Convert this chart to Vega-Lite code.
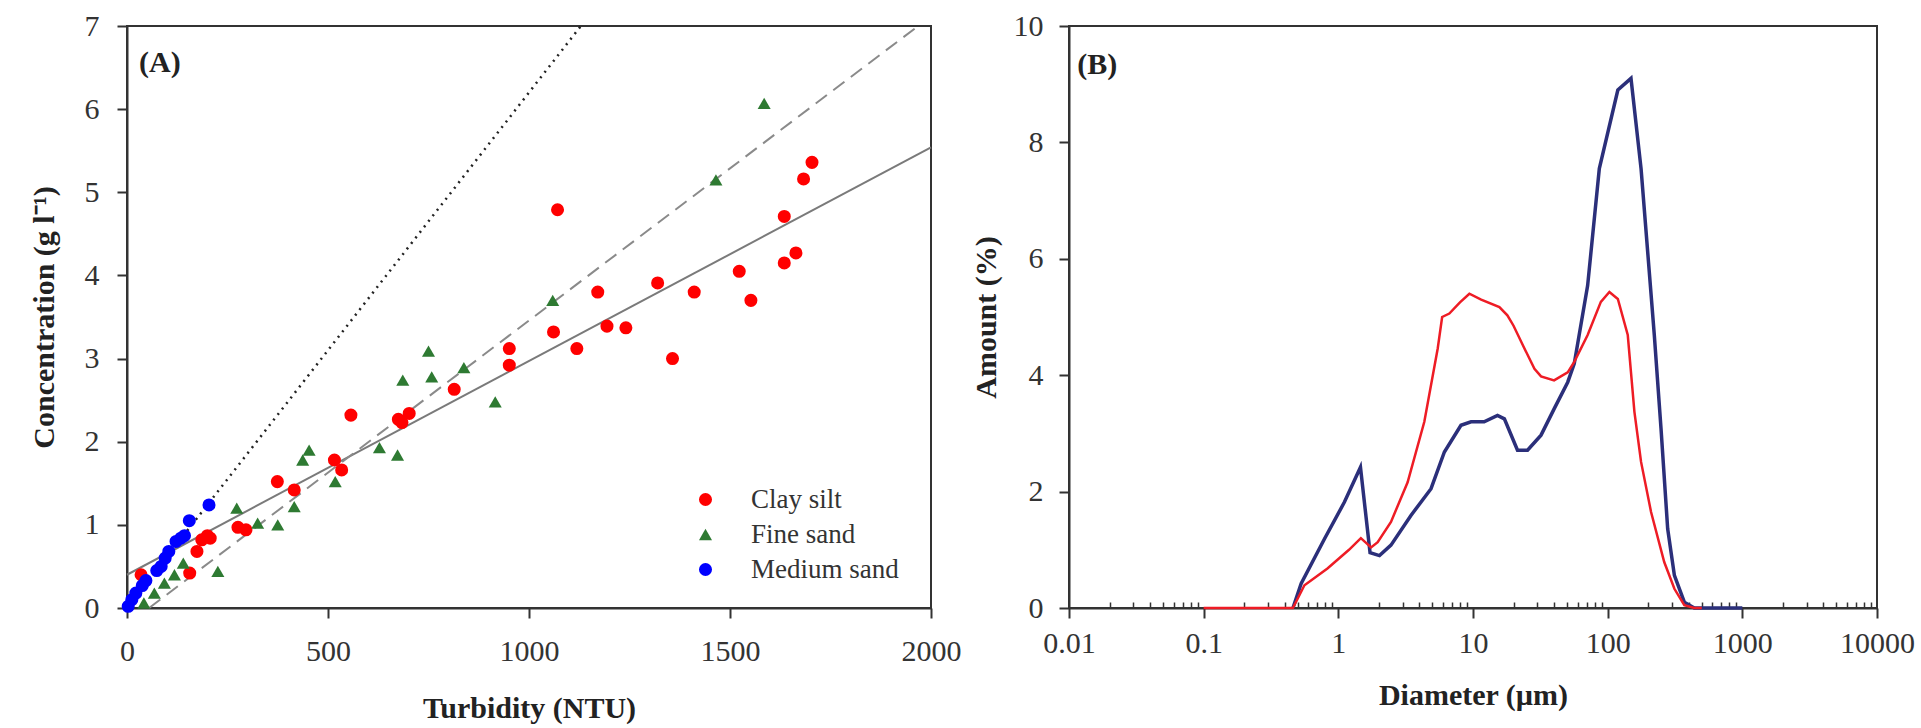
{
  "$schema": "https://vega.github.io/schema/vega-lite/v6.json",
  "background": "white",
  "padding": {"left": 28, "top": 10, "right": 5, "bottom": 5},
  "config": {
    "font": "Liberation Serif",
    "view": {"stroke": "#333", "strokeWidth": 2},
    "axis": {
      "grid": false, "domainColor": "#333", "domainWidth": 2,
      "tickColor": "#333", "tickWidth": 2, "tickSize": 10,
      "labelColor": "#333", "labelFont": "Liberation Serif", "labelFontSize": 30,
      "titleFont": "Liberation Serif", "titleFontSize": 30, "titleFontWeight": "bold", "titleColor": "#222",
      "labelFlush": false, "labelOverlap": false
    }
  },
  "datasets": {
    "sediment": [
      {"type": "Clay silt", "turbidity": 35, "conc": 0.40},
      {"type": "Clay silt", "turbidity": 156, "conc": 0.42},
      {"type": "Clay silt", "turbidity": 174, "conc": 0.68},
      {"type": "Clay silt", "turbidity": 186, "conc": 0.82},
      {"type": "Clay silt", "turbidity": 200, "conc": 0.87},
      {"type": "Clay silt", "turbidity": 207, "conc": 0.84},
      {"type": "Clay silt", "turbidity": 276, "conc": 0.97},
      {"type": "Clay silt", "turbidity": 296, "conc": 0.94},
      {"type": "Clay silt", "turbidity": 374, "conc": 1.52},
      {"type": "Clay silt", "turbidity": 416, "conc": 1.42},
      {"type": "Clay silt", "turbidity": 516, "conc": 1.78},
      {"type": "Clay silt", "turbidity": 534, "conc": 1.66},
      {"type": "Clay silt", "turbidity": 557, "conc": 2.32},
      {"type": "Clay silt", "turbidity": 675, "conc": 2.27},
      {"type": "Clay silt", "turbidity": 684, "conc": 2.23},
      {"type": "Clay silt", "turbidity": 702, "conc": 2.34},
      {"type": "Clay silt", "turbidity": 814, "conc": 2.63},
      {"type": "Clay silt", "turbidity": 951, "conc": 3.12},
      {"type": "Clay silt", "turbidity": 951, "conc": 2.92},
      {"type": "Clay silt", "turbidity": 1061, "conc": 3.32},
      {"type": "Clay silt", "turbidity": 1071, "conc": 4.79},
      {"type": "Clay silt", "turbidity": 1119, "conc": 3.12},
      {"type": "Clay silt", "turbidity": 1171, "conc": 3.80},
      {"type": "Clay silt", "turbidity": 1194, "conc": 3.39},
      {"type": "Clay silt", "turbidity": 1241, "conc": 3.37},
      {"type": "Clay silt", "turbidity": 1320, "conc": 3.91},
      {"type": "Clay silt", "turbidity": 1357, "conc": 3.00},
      {"type": "Clay silt", "turbidity": 1411, "conc": 3.80},
      {"type": "Clay silt", "turbidity": 1523, "conc": 4.05},
      {"type": "Clay silt", "turbidity": 1552, "conc": 3.70},
      {"type": "Clay silt", "turbidity": 1635, "conc": 4.71},
      {"type": "Clay silt", "turbidity": 1635, "conc": 4.15},
      {"type": "Clay silt", "turbidity": 1664, "conc": 4.27},
      {"type": "Clay silt", "turbidity": 1683, "conc": 5.16},
      {"type": "Clay silt", "turbidity": 1704, "conc": 5.36},
      {"type": "Fine sand", "turbidity": 42, "conc": 0.06},
      {"type": "Fine sand", "turbidity": 68, "conc": 0.18},
      {"type": "Fine sand", "turbidity": 93, "conc": 0.30},
      {"type": "Fine sand", "turbidity": 118, "conc": 0.40},
      {"type": "Fine sand", "turbidity": 140, "conc": 0.54},
      {"type": "Fine sand", "turbidity": 226, "conc": 0.44},
      {"type": "Fine sand", "turbidity": 273, "conc": 1.20},
      {"type": "Fine sand", "turbidity": 325, "conc": 1.02},
      {"type": "Fine sand", "turbidity": 375, "conc": 1.00},
      {"type": "Fine sand", "turbidity": 416, "conc": 1.22},
      {"type": "Fine sand", "turbidity": 437, "conc": 1.78},
      {"type": "Fine sand", "turbidity": 453, "conc": 1.90},
      {"type": "Fine sand", "turbidity": 518, "conc": 1.52},
      {"type": "Fine sand", "turbidity": 628, "conc": 1.93},
      {"type": "Fine sand", "turbidity": 673, "conc": 1.84},
      {"type": "Fine sand", "turbidity": 686, "conc": 2.74},
      {"type": "Fine sand", "turbidity": 750, "conc": 3.09},
      {"type": "Fine sand", "turbidity": 758, "conc": 2.78},
      {"type": "Fine sand", "turbidity": 838, "conc": 2.89},
      {"type": "Fine sand", "turbidity": 916, "conc": 2.48},
      {"type": "Fine sand", "turbidity": 1059, "conc": 3.70},
      {"type": "Fine sand", "turbidity": 1465, "conc": 5.15},
      {"type": "Fine sand", "turbidity": 1585, "conc": 6.07},
      {"type": "Medium sand", "turbidity": 3, "conc": 0.02},
      {"type": "Medium sand", "turbidity": 12, "conc": 0.10},
      {"type": "Medium sand", "turbidity": 22, "conc": 0.18},
      {"type": "Medium sand", "turbidity": 38, "conc": 0.27},
      {"type": "Medium sand", "turbidity": 47, "conc": 0.33},
      {"type": "Medium sand", "turbidity": 74, "conc": 0.45},
      {"type": "Medium sand", "turbidity": 85, "conc": 0.50},
      {"type": "Medium sand", "turbidity": 95, "conc": 0.60},
      {"type": "Medium sand", "turbidity": 104, "conc": 0.68},
      {"type": "Medium sand", "turbidity": 122, "conc": 0.80},
      {"type": "Medium sand", "turbidity": 134, "conc": 0.84},
      {"type": "Medium sand", "turbidity": 143, "conc": 0.87},
      {"type": "Medium sand", "turbidity": 155, "conc": 1.05},
      {"type": "Medium sand", "turbidity": 204, "conc": 1.24}
    ],
    "fits": [
      {"fit": "Clay silt", "turbidity": 0, "conc": 0.40},
      {"fit": "Clay silt", "turbidity": 2000, "conc": 5.54},
      {"fit": "Fine sand", "turbidity": 55, "conc": 0.0},
      {"fit": "Fine sand", "turbidity": 1968, "conc": 7.0},
      {"fit": "Medium sand", "turbidity": 0, "conc": 0.0},
      {"fit": "Medium sand", "turbidity": 1129, "conc": 7.0}
    ],
    "psd": [
      {"sample": "blue", "diameter": 0.46, "amount": 0},
      {"sample": "blue", "diameter": 0.53, "amount": 0.42},
      {"sample": "blue", "diameter": 0.79, "amount": 1.19},
      {"sample": "blue", "diameter": 1.11, "amount": 1.82},
      {"sample": "blue", "diameter": 1.46, "amount": 2.42},
      {"sample": "blue", "diameter": 1.72, "amount": 0.95},
      {"sample": "blue", "diameter": 2.02, "amount": 0.9},
      {"sample": "blue", "diameter": 2.46, "amount": 1.08},
      {"sample": "blue", "diameter": 3.46, "amount": 1.59},
      {"sample": "blue", "diameter": 4.88, "amount": 2.05},
      {"sample": "blue", "diameter": 6.13, "amount": 2.68},
      {"sample": "blue", "diameter": 8.14, "amount": 3.14},
      {"sample": "blue", "diameter": 9.67, "amount": 3.2},
      {"sample": "blue", "diameter": 12.1, "amount": 3.2},
      {"sample": "blue", "diameter": 15.2, "amount": 3.31},
      {"sample": "blue", "diameter": 17.1, "amount": 3.25},
      {"sample": "blue", "diameter": 21.4, "amount": 2.71},
      {"sample": "blue", "diameter": 25.4, "amount": 2.71},
      {"sample": "blue", "diameter": 32, "amount": 2.97},
      {"sample": "blue", "diameter": 40.2, "amount": 3.43},
      {"sample": "blue", "diameter": 50.5, "amount": 3.88},
      {"sample": "blue", "diameter": 56.5, "amount": 4.2},
      {"sample": "blue", "diameter": 71, "amount": 5.54},
      {"sample": "blue", "diameter": 86.7, "amount": 7.55},
      {"sample": "blue", "diameter": 119, "amount": 8.9},
      {"sample": "blue", "diameter": 149, "amount": 9.1},
      {"sample": "blue", "diameter": 177, "amount": 7.55},
      {"sample": "blue", "diameter": 222, "amount": 4.69},
      {"sample": "blue", "diameter": 249, "amount": 3.08},
      {"sample": "blue", "diameter": 279, "amount": 1.36},
      {"sample": "blue", "diameter": 313, "amount": 0.56},
      {"sample": "blue", "diameter": 371, "amount": 0.1},
      {"sample": "blue", "diameter": 440, "amount": 0},
      {"sample": "blue", "diameter": 1000, "amount": 0},
      {"sample": "red", "diameter": 0.1, "amount": 0},
      {"sample": "red", "diameter": 0.46, "amount": 0},
      {"sample": "red", "diameter": 0.56, "amount": 0.39},
      {"sample": "red", "diameter": 0.83, "amount": 0.68},
      {"sample": "red", "diameter": 1.2, "amount": 1.0},
      {"sample": "red", "diameter": 1.47, "amount": 1.2},
      {"sample": "red", "diameter": 1.75, "amount": 1.04},
      {"sample": "red", "diameter": 1.96, "amount": 1.13},
      {"sample": "red", "diameter": 2.46, "amount": 1.48},
      {"sample": "red", "diameter": 3.27, "amount": 2.16},
      {"sample": "red", "diameter": 4.35, "amount": 3.2},
      {"sample": "red", "diameter": 5.47, "amount": 4.46},
      {"sample": "red", "diameter": 5.9, "amount": 5.0},
      {"sample": "red", "diameter": 6.67, "amount": 5.06},
      {"sample": "red", "diameter": 8.0, "amount": 5.25},
      {"sample": "red", "diameter": 9.4, "amount": 5.4},
      {"sample": "red", "diameter": 11.5, "amount": 5.3},
      {"sample": "red", "diameter": 15.7, "amount": 5.17},
      {"sample": "red", "diameter": 18, "amount": 5.03},
      {"sample": "red", "diameter": 20, "amount": 4.85},
      {"sample": "red", "diameter": 24.1, "amount": 4.46},
      {"sample": "red", "diameter": 28.6, "amount": 4.11},
      {"sample": "red", "diameter": 32, "amount": 3.98},
      {"sample": "red", "diameter": 40, "amount": 3.91},
      {"sample": "red", "diameter": 50.5, "amount": 4.05},
      {"sample": "red", "diameter": 56.5, "amount": 4.23},
      {"sample": "red", "diameter": 71, "amount": 4.69},
      {"sample": "red", "diameter": 89, "amount": 5.26},
      {"sample": "red", "diameter": 103, "amount": 5.43},
      {"sample": "red", "diameter": 119, "amount": 5.31},
      {"sample": "red", "diameter": 141, "amount": 4.69},
      {"sample": "red", "diameter": 149, "amount": 4.05},
      {"sample": "red", "diameter": 158, "amount": 3.37},
      {"sample": "red", "diameter": 177, "amount": 2.51},
      {"sample": "red", "diameter": 210, "amount": 1.65},
      {"sample": "red", "diameter": 263, "amount": 0.79},
      {"sample": "red", "diameter": 313, "amount": 0.33},
      {"sample": "red", "diameter": 371, "amount": 0.05},
      {"sample": "red", "diameter": 440, "amount": 0},
      {"sample": "red", "diameter": 500, "amount": 0}
    ]
  },
  "bounds": "flush",
  "spacing": 138,
  "hconcat": [
    {
      "width": 804,
      "height": 582,
      "layer": [
        {
          "data": {"name": "fits"},
          "transform": [{"filter": "datum.fit === 'Clay silt'"}],
          "mark": {"type": "line", "color": "#7a7a7a", "strokeWidth": 2},
          "encoding": {
            "x": {"field": "turbidity", "type": "quantitative", "scale": {"domain": [0, 2000], "nice": false},
                  "axis": {"values": [0, 500, 1000, 1500, 2000], "format": "d", "title": "Turbidity (NTU)", "labelPadding": 18, "titlePadding": 27}},
            "y": {"field": "conc", "type": "quantitative", "scale": {"domain": [0, 7], "nice": false},
                  "axis": {"values": [0, 1, 2, 3, 4, 5, 6, 7], "format": "d", "title": "Concentration (g l⁻¹)", "labelPadding": 18, "titlePadding": 25}}
          }
        },
        {
          "data": {"name": "fits"},
          "transform": [{"filter": "datum.fit === 'Fine sand'"}],
          "mark": {"type": "line", "color": "#8a8a8a", "strokeWidth": 2, "strokeDash": [14, 8]},
          "encoding": {
            "x": {"field": "turbidity", "type": "quantitative"},
            "y": {"field": "conc", "type": "quantitative"}
          }
        },
        {
          "data": {"name": "fits"},
          "transform": [{"filter": "datum.fit === 'Medium sand'"}],
          "mark": {"type": "line", "color": "#222", "strokeWidth": 2.5, "strokeDash": [2, 5]},
          "encoding": {
            "x": {"field": "turbidity", "type": "quantitative"},
            "y": {"field": "conc", "type": "quantitative"}
          }
        },
        {
          "data": {"name": "sediment"},
          "mark": {"type": "point", "filled": true, "opacity": 1, "size": 170},
          "encoding": {
            "x": {"field": "turbidity", "type": "quantitative"},
            "y": {"field": "conc", "type": "quantitative"},
            "color": {"field": "type", "type": "nominal",
                      "scale": {"domain": ["Clay silt", "Fine sand", "Medium sand"], "range": ["#ff0000", "#2e7a32", "#0000ff"]},
                      "legend": {"title": null, "orient": "none", "legendX": 565, "legendY": 460, "padding": 0,
                                 "labelFont": "Liberation Serif", "labelFontSize": 27, "labelColor": "#333",
                                 "labelOffset": 32, "rowPadding": 7, "symbolSize": 170, "symbolStrokeWidth": 0}},
            "shape": {"field": "type", "type": "nominal",
                      "scale": {"domain": ["Clay silt", "Fine sand", "Medium sand"], "range": ["circle", "triangle-up", "circle"]}}
          }
        },
        {
          "data": {"values": [{"label": "(A)"}]},
          "mark": {"type": "text", "align": "left", "baseline": "middle", "fontSize": 30, "fontWeight": "bold", "font": "Liberation Serif", "color": "#222"},
          "encoding": {
            "x": {"datum": 30, "type": "quantitative"},
            "y": {"datum": 6.56, "type": "quantitative"},
            "text": {"field": "label"}
          }
        }
      ]
    },
    {
      "width": 808,
      "height": 582,
      "resolve": {"axis": {"x": "independent"}},
      "layer": [
        {
          "data": {"name": "psd"},
          "transform": [{"filter": "datum.sample === 'blue'"}],
          "mark": {"type": "line", "color": "#2b2f7a", "strokeWidth": 3.5},
          "encoding": {
            "x": {"field": "diameter", "type": "quantitative",
                  "scale": {"type": "log", "domain": [0.01, 10000], "nice": false},
                  "axis": {"orient": "bottom", "values": [0.01, 0.1, 1, 10, 100, 1000, 10000], "format": "~g", "title": "Diameter (µm)", "labelPadding": 10, "titlePadding": 22}},
            "y": {"field": "amount", "type": "quantitative", "scale": {"domain": [0, 10], "nice": false},
                  "axis": {"values": [0, 2, 4, 6, 8, 10], "format": "d", "title": "Amount (%)", "labelPadding": 16, "titlePadding": 12}}
          }
        },
        {
          "data": {"name": "psd"},
          "transform": [{"filter": "datum.sample === 'red'"}],
          "mark": {"type": "line", "color": "#ee1c25", "strokeWidth": 2.5},
          "encoding": {
            "x": {"field": "diameter", "type": "quantitative", "axis": null},
            "y": {"field": "amount", "type": "quantitative"}
          }
        },
        {
          "data": {"name": "psd"},
          "mark": {"type": "point", "opacity": 0},
          "encoding": {
            "x": {"field": "diameter", "type": "quantitative",
                  "axis": {"orient": "bottom", "values": [0.02,0.03,0.04,0.05,0.06,0.07,0.08,0.09,0.2,0.3,0.4,0.5,0.6,0.7,0.8,0.9,2,3,4,5,6,7,8,9,20,30,40,50,60,70,80,90,200,300,400,500,600,700,800,900,2000,3000,4000,5000,6000,7000,8000,9000],
                           "labels": false, "domain": false, "tickSize": -6, "tickWidth": 1.5, "title": null}}
          }
        },
        {
          "data": {"values": [{"label": "(B)"}]},
          "mark": {"type": "text", "align": "left", "baseline": "middle", "fontSize": 30, "fontWeight": "bold", "font": "Liberation Serif", "color": "#222"},
          "encoding": {
            "x": {"datum": 0.0115, "type": "quantitative", "axis": null},
            "y": {"datum": 9.33, "type": "quantitative"},
            "text": {"field": "label"}
          }
        }
      ]
    }
  ]
}
